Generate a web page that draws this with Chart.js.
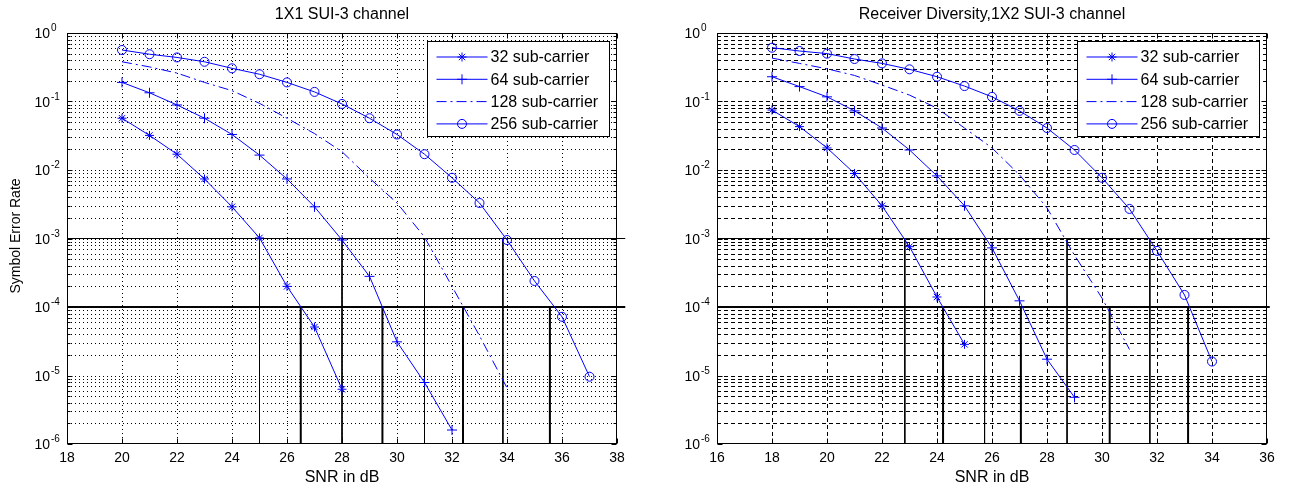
<!DOCTYPE html>
<html>
<head>
<meta charset="utf-8">
<script src="https://cdn.jsdelivr.net/npm/chart.js@4/dist/chart.umd.min.js"></script>
<style>
  html, body { margin: 0; padding: 0; background: #fff; }
  #wrap { position: relative; width: 1289px; height: 492px; overflow: hidden; }
  #c1 { position: absolute; left: 0; top: 0; }
  #c2 { position: absolute; left: 650px; top: 0; }
</style>
</head>
<body>
<div id="wrap">
  <canvas id="c1" width="645" height="492"></canvas>
  <canvas id="c2" width="639" height="492"></canvas>
</div>
<script>
const FONT = "'Liberation Sans', Arial, sans-serif";
const BLUE = '#0000ff';

// tick labels
const xTicksL = [18, 20, 22, 24, 26, 28, 30, 32, 34, 36, 38];
const xTicksR = [16, 18, 20, 22, 24, 26, 28, 30, 32, 34, 36];
const yTickExps = [0, -1, -2, -3, -4, -5, -6];
const seriesLabels = ['32 sub-carrier', '64 sub-carrier', '128 sub-carrier', '256 sub-carrier'];

// ---- 1X1 SUI-3 channel ----
const snr32L = [20, 21, 22, 23, 24, 25, 26, 27, 28];
const ser32L = [0.057, 0.032, 0.017, 0.0074, 0.0029, 0.00102, 2.0e-4, 5.1e-5, 6.3e-6];
const snr64L = [20, 21, 22, 23, 24, 25, 26, 27, 28, 29, 30, 31, 32];
const ser64L = [0.19, 0.134, 0.089, 0.057, 0.033, 0.0165, 0.0074, 0.0029, 9.5e-4, 2.8e-4, 3.1e-5, 7.9e-6, 1.6e-6];
const snr128L = [20, 21, 22, 23, 24, 25, 26, 27, 28, 29, 30, 31, 32, 33, 34];
const ser128L = [0.38, 0.32, 0.26, 0.19, 0.144, 0.094, 0.057, 0.034, 0.0185, 0.0076, 0.0033, 1.05e-3, 2.0e-4, 3.8e-5, 6.6e-6];
const snr256L = [20, 21, 22, 23, 24, 25, 26, 27, 28, 29, 30, 31, 32, 33, 34, 35, 36, 37];
const ser256L = [0.565, 0.49, 0.44, 0.38, 0.305, 0.25, 0.19, 0.138, 0.092, 0.057, 0.033, 0.017, 0.0077, 0.0033, 9.5e-4, 2.4e-4, 7.2e-5, 9.6e-6];
// SNR where each curve reaches 1e-3 (thin) and 1e-4 (thick)
const cross3L = [25, 28, 31, 33.85];
const cross4L = [26.5, 29.47, 32.4, 35.56];
const hLineEndL = 38.3;

// ---- Receiver Diversity, 1X2 SUI-3 channel ----
const snr32R = [18, 19, 20, 21, 22, 23, 24, 25];
const ser32R = [0.075, 0.043, 0.021, 0.0089, 0.0030, 7.6e-4, 1.4e-4, 2.85e-5];
const snr64R = [18, 19, 20, 21, 22, 23, 24, 25, 26, 27, 28, 29];
const ser64R = [0.23, 0.165, 0.117, 0.073, 0.041, 0.0196, 0.0082, 0.0030, 7.3e-4, 1.23e-4, 1.73e-5, 4.8e-6];
const snr128R = [18, 19, 20, 21, 22, 23, 24, 25, 26, 27, 28, 29, 30, 31];
const ser128R = [0.43, 0.36, 0.30, 0.24, 0.174, 0.124, 0.08, 0.041, 0.021, 0.0085, 0.0028, 5.7e-4, 1.35e-4, 2.4e-5];
const snr256R = [18, 19, 20, 21, 22, 23, 24, 25, 26, 27, 28, 29, 30, 31, 32, 33, 34];
const ser256R = [0.61, 0.546, 0.50, 0.417, 0.36, 0.295, 0.23, 0.168, 0.117, 0.073, 0.041, 0.0196, 0.0077, 0.0027, 6.6e-4, 1.5e-4, 1.6e-5];
const cross3R = [22.83, 25.73, 28.73, 31.74];
const cross4R = [24.22, 27.05, 30.28, 33.13];
const hLineEndR = 36.1;

const DASHDOT = [10, 4, 2, 4];

function curve(label, xs, ys, style, dash) {
  return {
    label: label,
    data: xs.map((v, i) => ({ x: v, y: ys[i] })),
    borderColor: BLUE,
    backgroundColor: 'transparent',
    borderWidth: 1,
    borderDash: dash || [],
    pointStyle: style || 'circle',
    pointRadius: style ? (style === 'cross' ? 5 : 4.5) : 0,
    pointBorderColor: BLUE,
    pointBorderWidth: 1,
    pointBackgroundColor: 'transparent',
    order: 1
  };
}

function refLine(pts, w) {
  return {
    label: '',
    data: pts,
    borderColor: '#000',
    borderWidth: w,
    pointRadius: 0,
    clip: false,
    order: 2
  };
}

function buildSets(s, xMin) {
  const sets = [
    curve(seriesLabels[0], s.x32, s.y32, 'star'),
    curve(seriesLabels[1], s.x64, s.y64, 'cross'),
    curve(seriesLabels[2], s.x128, s.y128, null, DASHDOT),
    curve(seriesLabels[3], s.x256, s.y256, 'circle')
  ];
  sets.push(refLine([{ x: xMin, y: 1e-3 }, { x: s.hEnd, y: 1e-3 }], 1));
  sets.push(refLine([{ x: xMin, y: 1e-4 }, { x: s.hEnd, y: 1e-4 }], 2));
  s.c3.forEach(v => sets.push(refLine([{ x: v, y: 1e-3 }, { x: v, y: 1e-6 }], 1)));
  s.c4.forEach(v => sets.push(refLine([{ x: v, y: 1e-4 }, { x: v, y: 1e-6 }], 2)));
  return sets;
}

function marker(ctx, style, x, y, r) {
  ctx.beginPath();
  if (style === 'circle') ctx.arc(x, y, r, 0, Math.PI * 2);
  if (style === 'cross' || style === 'star') {
    ctx.moveTo(x - r, y); ctx.lineTo(x + r, y);
    ctx.moveTo(x, y - r); ctx.lineTo(x, y + r);
  }
  if (style === 'star') {
    const d = r * 0.7071;
    ctx.moveTo(x - d, y - d); ctx.lineTo(x + d, y + d);
    ctx.moveTo(x - d, y + d); ctx.lineTo(x + d, y - d);
  }
  ctx.stroke();
}

// MATLAB-style axes: grid, box, ticks, labels, legend
const matlabAxes = {
  id: 'matlabAxes',
  beforeDatasetsDraw(chart, args, o) {
    const { ctx, chartArea: a, scales: { x, y } } = chart;
    ctx.save();
    ctx.strokeStyle = '#000';
    ctx.lineWidth = 1;
    ctx.setLineDash(o.gridDash);
    ctx.beginPath();
    for (let n = -6; n < 0; n++) {
      for (let k = 1; k <= 9; k++) {
        if (n === -6 && k === 1) continue;
        const py = Math.round(y.getPixelForValue(k * Math.pow(10, n))) + 0.5;
        ctx.moveTo(a.left, py); ctx.lineTo(a.right, py);
      }
    }
    o.xTicks.forEach(v => {
      if (v === x.min || v === x.max) return;
      const px = Math.round(x.getPixelForValue(v)) + 0.5;
      ctx.moveTo(px, a.top); ctx.lineTo(px, a.bottom);
    });
    ctx.stroke();
    ctx.restore();
  },
  afterDatasetsDraw(chart, args, o) {
    const { ctx, chartArea: a, scales: { x, y } } = chart;
    ctx.save();
    ctx.strokeStyle = '#000';
    ctx.lineWidth = 1;
    ctx.setLineDash([]);
    const L = Math.round(a.left) + 0.5, R = Math.round(a.right) - 0.5;
    const T = Math.round(a.top) + 0.5, B = Math.round(a.bottom) - 0.5;
    ctx.strokeRect(L, T, R - L, B - T);
    // ticks
    ctx.beginPath();
    o.xTicks.forEach(v => {
      const px = Math.round(x.getPixelForValue(v)) + 0.5;
      ctx.moveTo(px, B); ctx.lineTo(px, B - 5);
      ctx.moveTo(px, T); ctx.lineTo(px, T + 5);
    });
    for (let n = -6; n <= 0; n++) {
      for (let k = 1; k <= 9; k++) {
        const v = k * Math.pow(10, n);
        if (v > 1) break;
        const len = k === 1 ? 5 : 3;
        const py = Math.round(y.getPixelForValue(v)) + 0.5;
        ctx.moveTo(L, py); ctx.lineTo(L + len, py);
        ctx.moveTo(R, py); ctx.lineTo(R - len, py);
      }
    }
    ctx.stroke();

    // y tick labels 10^n
    ctx.fillStyle = '#000';
    yTickExps.forEach(e => {
      const py = y.getPixelForValue(Math.pow(10, e));
      ctx.font = '14px ' + FONT;
      ctx.textAlign = 'right';
      ctx.textBaseline = 'alphabetic';
      ctx.fillText('10', a.left - 17, py + 5);
      ctx.font = '10px ' + FONT;
      ctx.textAlign = 'left';
      ctx.fillText(String(e).replace('-', '-'), a.left - 16, py - 2);
    });

    // title and axis labels
    const cx = (a.left + a.right) / 2;
    ctx.font = '16px ' + FONT;
    ctx.textAlign = 'center';
    ctx.textBaseline = 'middle';
    ctx.fillText(o.title, cx, 15);
    ctx.fillText('SNR in dB', cx, 478);
    if (o.yLabel) {
      ctx.save();
      ctx.translate(16, 236);
      ctx.rotate(-Math.PI / 2);
      ctx.font = '14px ' + FONT;
      ctx.fillText(o.yLabel, 0, 0);
      ctx.restore();
    }

    // legend box
    const bw = 182, bh = 95;
    const bx = Math.round(a.right) - 8 - bw + 0.5, by = Math.round(a.top) + 8 + 0.5;
    ctx.fillStyle = '#fff';
    ctx.fillRect(bx, by, bw, bh);
    ctx.strokeRect(bx, by, bw, bh);
    chart.data.datasets.slice(0, 4).forEach((ds, i) => {
      const ry = by + 15.5 + i * 22.3;
      ctx.strokeStyle = BLUE;
      ctx.lineWidth = 1;
      ctx.setLineDash(ds.borderDash || []);
      ctx.beginPath();
      ctx.moveTo(bx + 9, ry); ctx.lineTo(bx + 60, ry);
      ctx.stroke();
      ctx.setLineDash([]);
      if (ds.pointRadius > 0) marker(ctx, ds.pointStyle, bx + 34.5, ry, ds.pointRadius);
      ctx.fillStyle = '#000';
      ctx.font = '16px ' + FONT;
      ctx.textAlign = 'left';
      ctx.textBaseline = 'middle';
      ctx.fillText(ds.label, bx + 63, ry + 1);
    });
    ctx.restore();
  }
};

function makeChart(id, sets, xTicks, padRight, title, yLabel) {
  return new Chart(document.getElementById(id), {
    type: 'line',
    data: { datasets: sets },
    options: {
      responsive: false,
      animation: false,
      layout: { padding: { top: 33, right: padRight, left: 0, bottom: 0 } },
      scales: {
        x: {
          type: 'linear',
          min: xTicks[0],
          max: xTicks[xTicks.length - 1],
          afterBuildTicks: s => { s.ticks = xTicks.map(v => ({ value: v })); },
          afterFit: s => { s.height = 48; },
          grid: { display: false, drawTicks: false },
          border: { display: false },
          ticks: { color: '#000', font: { family: FONT, size: 14 }, padding: 6, maxRotation: 0, autoSkip: false }
        },
        y: {
          type: 'logarithmic',
          min: 1e-6,
          max: 1,
          afterFit: s => { s.width = 67; },
          grid: { display: false, drawTicks: false },
          border: { display: false },
          ticks: { display: false }
        }
      },
      plugins: {
        legend: { display: false },
        tooltip: { enabled: false },
        matlabAxes: { xTicks: xTicks, gridDash: id === 'c1' ? [1, 3] : [4, 3], title: title, yLabel: yLabel }
      }
    },
    plugins: [matlabAxes]
  });
}

makeChart('c1', buildSets({
  x32: snr32L, y32: ser32L, x64: snr64L, y64: ser64L,
  x128: snr128L, y128: ser128L, x256: snr256L, y256: ser256L,
  c3: cross3L, c4: cross4L, hEnd: hLineEndL
}, 18), xTicksL, 28, '1X1 SUI-3 channel', 'Symbol Error Rate');

makeChart('c2', buildSets({
  x32: snr32R, y32: ser32R, x64: snr64R, y64: ser64R,
  x128: snr128R, y128: ser128R, x256: snr256R, y256: ser256R,
  c3: cross3R, c4: cross4R, hEnd: hLineEndR
}, 16), xTicksR, 22, 'Receiver Diversity,1X2 SUI-3 channel', null);
</script>
</body>
</html>
